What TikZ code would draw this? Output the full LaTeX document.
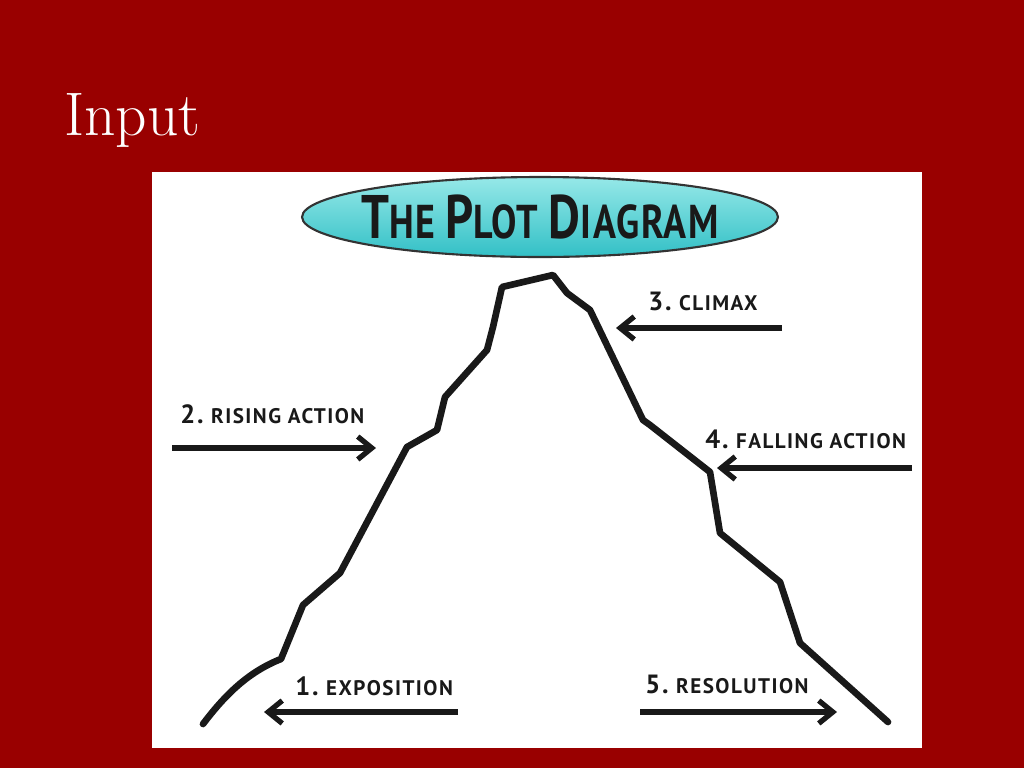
\documentclass[tikz,border=0pt]{standalone}
\usepackage{fontspec}
\usepackage{xcolor}
\usetikzlibrary{shapes.geometric,arrows.meta,positioning}
\newfontfamily\plotfont{PT Sans}[LetterSpace=7]
\newfontfamily\bannerfont{PT Sans}[LetterSpace=4]
\definecolor{slidered}{RGB}{153,0,0}
\definecolor{tealtop}{RGB}{150,232,232}
\definecolor{tealbot}{RGB}{50,192,198}
\definecolor{inkblack}{RGB}{25,25,25}
\newcommand{\plotlabel}[2]{{\fontsize{15}{15}\selectfont #1} {\fontsize{12}{12}\selectfont #2}}
\newcommand{\bannerword}[2]{{\fontsize{35}{35}\selectfont #1}{\fontsize{27}{27}\selectfont #2}}

\begin{document}
\begin{tikzpicture}[
    x=0.02cm, y=-0.02cm,
    banner/.style={ellipse, draw=black!80, line width=1.2pt, top color=tealtop, bottom color=tealbot, minimum width=9.52cm, minimum height=1.6cm, inner sep=0pt},
    bannertext/.style={inner sep=0pt, font=\bannerfont\bfseries, text=inkblack},
    lbl/.style={anchor=base west, inner sep=0pt, font=\plotfont\bfseries, text=inkblack},
    arrow/.style={-{Straight Barb[length=8pt,width=13pt,line width=3pt]}, line width=3.2pt, draw=inkblack},
    ridge/.style={line width=3.8pt, draw=inkblack, line join=round, line cap=round}
]

% Slide and panel
\fill[slidered] (0,0) rectangle (1024,768);
\fill[white] (152,172) rectangle (922,748);
\node[anchor=base west, inner sep=0pt, text=white, font=\fontsize{35}{35}\selectfont] (heading) at (64,135) {Input};

% Banner
\node[banner] (banner) at (540,217) {};
\node[bannertext] (bannertitle) at (banner.center) {\scalebox{0.8}[1]{\bannerword{T}{HE}\hspace{0.75em}\bannerword{P}{LOT}\hspace{0.75em}\bannerword{D}{IAGRAM}}};

% Plot line
\draw[ridge] (203,724) .. controls (225,695) and (248,672) .. (281,659)
    -- (303,605) -- (340,573) -- (407,447) -- (437,430) -- (445,397)
    -- (487,350) -- (493,327) -- (502,287) -- (553,275) -- (567,293)
    -- (590,310) -- (643,420) -- (650,425) -- (710,472) -- (720,533)
    -- (780,582) -- (800,643) -- (888,722);

% Labels
\node[lbl] (rising) at (180,423) {\plotlabel{2.}{RISING ACTION}};
\node[lbl] (climax) at (648,310) {\plotlabel{3.}{CLIMAX}};
\node[lbl] (falling) at (705,448) {\plotlabel{4.}{FALLING ACTION}};
\node[lbl] (expo) at (295,695) {\plotlabel{1.}{EXPOSITION}};
\node[lbl] (resol) at (645,693) {\plotlabel{5.}{RESOLUTION}};

% Arrow ends
\coordinate (risetail) at (172,448);
\coordinate (risetip) at (376,448);
\coordinate (climtail) at (782,328);
\coordinate (climtip) at (616,328);
\coordinate (falltail) at (912,468);
\coordinate (falltip) at (717,468);
\coordinate (expotail) at (458,712);
\coordinate (expotip) at (264,712);
\coordinate (resoltail) at (640,712);
\coordinate (resoltip) at (837,712);

% Arrows
\draw[arrow] (risetail) -- (risetip);
\draw[arrow] (climtail) -- (climtip);
\draw[arrow] (falltail) -- (falltip);
\draw[arrow] (expotail) -- (expotip);
\draw[arrow] (resoltail) -- (resoltip);

\end{tikzpicture}
\end{document}
